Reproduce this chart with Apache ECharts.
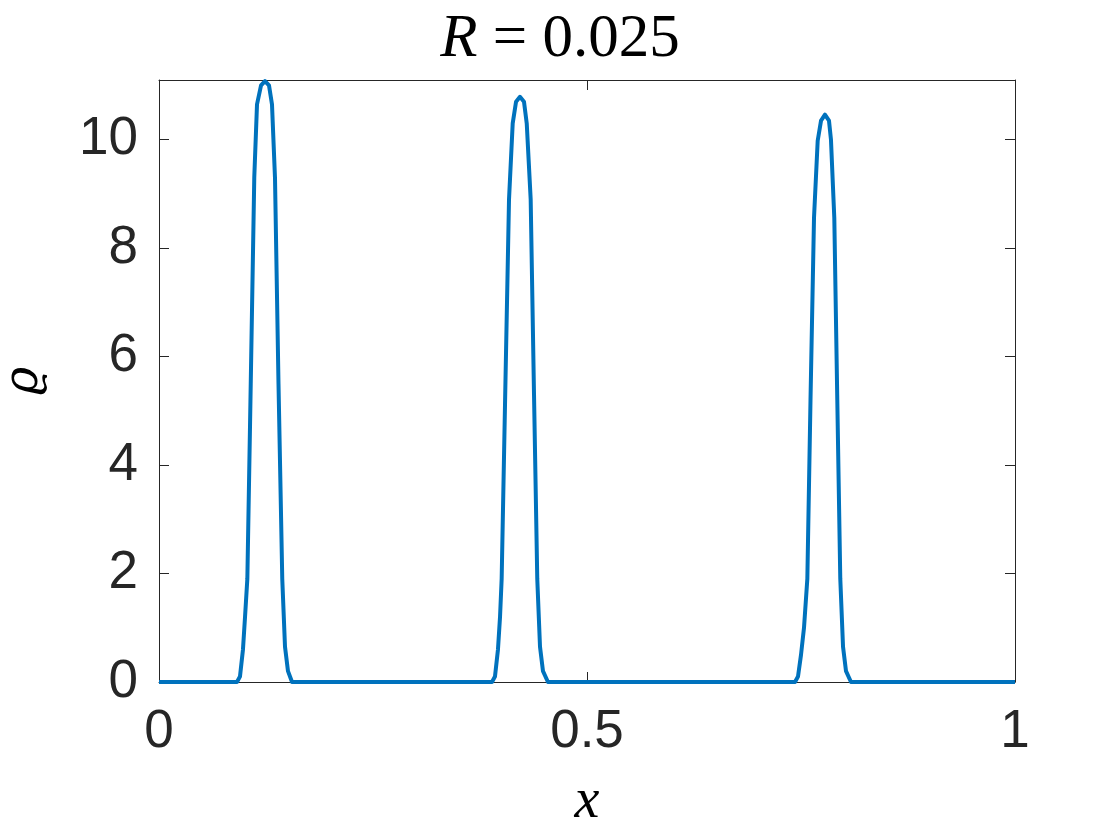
<!DOCTYPE html>
<html>
<head>
<meta charset="utf-8">
<script src="https://cdn.jsdelivr.net/npm/echarts@6/dist/echarts.min.js"></script>
<style>html,body{margin:0;padding:0;background:#fff;}#c{width:1120px;height:840px;}</style>
</head>
<body>
<div id="c"></div>
<script>
// x positions and density values
const xs = [0,
  0.0911, 0.0946, 0.0981, 0.1005, 0.1032, 0.1063, 0.1113, 0.1145, 0.1192, 0.1238, 0.1285, 0.1320, 0.1355, 0.1396, 0.1440, 0.1472, 0.1507, 0.1554,
  0.3890, 0.3925, 0.3960, 0.3984, 0.4003, 0.4042, 0.4089, 0.4132, 0.4171, 0.4217, 0.4264, 0.4296, 0.4342, 0.4381, 0.4419, 0.4451, 0.4486, 0.4544,
  0.7430, 0.7465, 0.7500, 0.7535, 0.7574, 0.7611, 0.7652, 0.7695, 0.7734, 0.7780, 0.7827, 0.7850, 0.7889, 0.7924, 0.7959, 0.7991, 0.8026, 0.8084,
  1];
const rho = [0,
  0, 0.1, 0.6, 1.2, 1.9, 4.7, 9.3, 10.65, 11.0, 11.08, 11.0, 10.65, 9.3, 5.5, 1.9, 0.65, 0.2, 0,
  0, 0.1, 0.6, 1.2, 1.9, 5.1, 8.9, 10.3, 10.7, 10.79, 10.7, 10.3, 8.9, 5.3, 1.9, 0.65, 0.2, 0,
  0, 0.1, 0.5, 1.0, 1.9, 5.2, 8.56, 9.98, 10.35, 10.46, 10.35, 10.0, 8.56, 5.2, 1.9, 0.65, 0.2, 0,
  0];
const xTicks = ['0', '0.5', '1'];
const titleR = 'R';
const titleRest = ' = 0.025';
const xName = 'x';
const yName = 'ϱ';

const points = xs.map((x, i) => [x, rho[i]]);
const axisCol = '#262626';
const tickFont = {fontFamily: 'Liberation Sans', fontSize: 53, color: axisCol};

const chart = echarts.init(document.getElementById('c'), null, {renderer: 'canvas'});
chart.setOption({
  backgroundColor: '#fff',
  animation: false,
  title: {
    text: '{i|' + titleR + '}{n|' + titleRest + '}',
    left: 'center', top: 4,
    textStyle: {
      rich: {
        i: {fontFamily: 'Liberation Serif', fontStyle: 'italic', fontWeight: 'normal', fontSize: 61, color: '#000'},
        n: {fontFamily: 'Liberation Serif', fontWeight: 'normal', fontSize: 61, color: '#000'}
      }
    }
  },
  grid: {left: 159, right: 105, top: 80, bottom: 158, containLabel: false, outerBoundsMode: 'none'},
  xAxis: [{
    type: 'value', min: 0, max: 1, interval: 0.5, position: 'bottom',
    axisLine: {show: true, onZero: false, lineStyle: {color: axisCol, width: 1}},
    axisTick: {show: true, inside: true, length: 10, lineStyle: {color: axisCol}},
    splitLine: {show: false},
    axisLabel: Object.assign({margin: 24, formatter: v => xTicks[Math.round(v * 2)]}, tickFont),
    name: xName, nameLocation: 'middle', nameGap: 92,
    nameTextStyle: {fontFamily: 'Liberation Serif', fontStyle: 'italic', fontSize: 56, color: '#000'}
  }, {
    type: 'value', min: 0, max: 1, interval: 0.5, position: 'top',
    axisLine: {show: true, onZero: false, lineStyle: {color: axisCol, width: 1}},
    axisTick: {show: true, inside: true, length: 10, lineStyle: {color: axisCol}},
    axisLabel: {show: false}, splitLine: {show: false}
  }],
  yAxis: [{
    type: 'value', min: 0, max: 11.1, interval: 2, position: 'left',
    axisLine: {show: true, onZero: false, lineStyle: {color: axisCol, width: 1}},
    axisTick: {show: true, inside: true, length: 10, lineStyle: {color: axisCol}},
    splitLine: {show: false},
    axisLabel: Object.assign({margin: 21, showMaxLabel: false}, tickFont),
    name: yName, nameLocation: 'middle', nameGap: 110, nameRotate: 90,
    nameTextStyle: {fontFamily: 'DejaVu Serif', fontStyle: 'italic', fontSize: 48, color: '#000'}
  }, {
    type: 'value', min: 0, max: 11.1, interval: 2, position: 'right',
    axisLine: {show: true, onZero: false, lineStyle: {color: axisCol, width: 1}},
    axisTick: {show: true, inside: true, length: 10, lineStyle: {color: axisCol}},
    axisLabel: {show: false}, splitLine: {show: false}
  }],
  series: [{
    type: 'line', data: points, xAxisIndex: 0, yAxisIndex: 0,
    showSymbol: false, symbol: 'none', smooth: false, clip: false,
    lineStyle: {color: '#0072BD', width: 4, join: 'round'}
  }]
});
</script>
</body>
</html>
